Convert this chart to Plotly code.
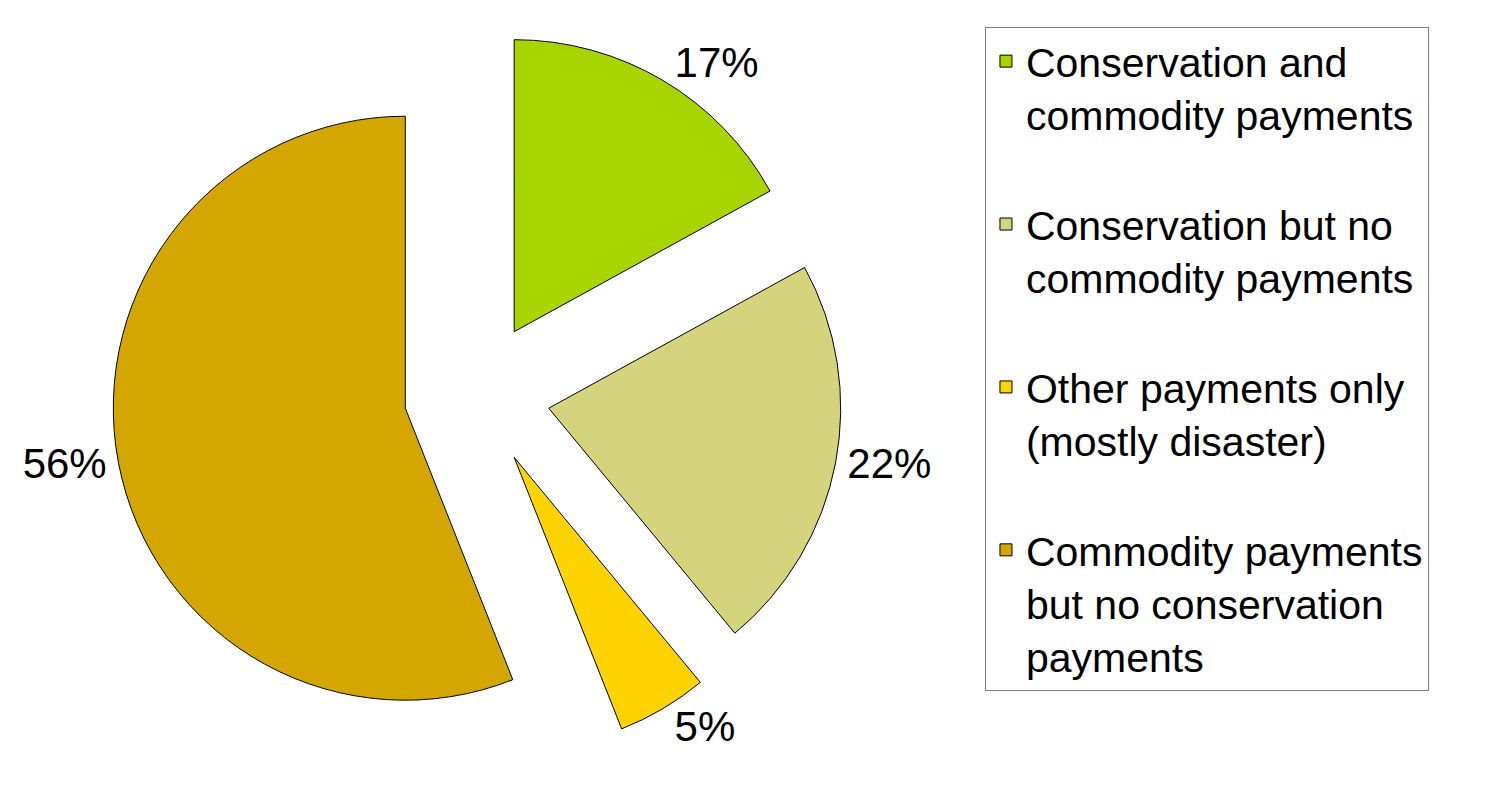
import plotly.graph_objects as go

labels = [
    "Conservation and<br>commodity payments<br>\u00a0",
    "Conservation but no<br>commodity payments<br>\u00a0",
    "Other payments only<br>(mostly disaster)<br>\u00a0",
    "Commodity payments<br>but no conservation<br>payments",
]
values = [17, 22, 5, 56]
colors = ["#A8D400", "#D4D47C", "#FFD300", "#D4A700"]

fig = go.Figure(
    go.Pie(
        labels=labels,
        values=values,
        sort=False,
        direction="clockwise",
        rotation=0,
        pull=[0.25, 0.25, 0.25, 0.25],
        marker=dict(colors=colors, line=dict(color="#000000", width=1)),
        texttemplate="%{value}%",
        textposition="outside",
        textfont=dict(size=42, color="#000000", family="Liberation Sans, Arial, sans-serif"),
        domain=dict(x=[0.0697, 0.5590], y=[0.0499, 0.9728]),
        hoverinfo="label+percent",
    )
)

fig.update_layout(
    width=1492,
    height=791,
    margin=dict(l=0, r=0, t=0, b=0, autoexpand=False),
    paper_bgcolor="#FFFFFF",
    plot_bgcolor="#FFFFFF",
    font=dict(family="Liberation Sans, Arial, sans-serif", color="#000000"),
    showlegend=True,
    legend=dict(
        x=0.6548,
        y=0.976,
        xanchor="left",
        yanchor="top",
        bgcolor="#FFFFFF",
        bordercolor="#808080",
        borderwidth=1,
        font=dict(size=41, color="#000000", family="Liberation Sans, Arial, sans-serif"),
        valign="top",
        traceorder="normal",
        entrywidth=520,
    ),
)

fig.write_html("out.html")
